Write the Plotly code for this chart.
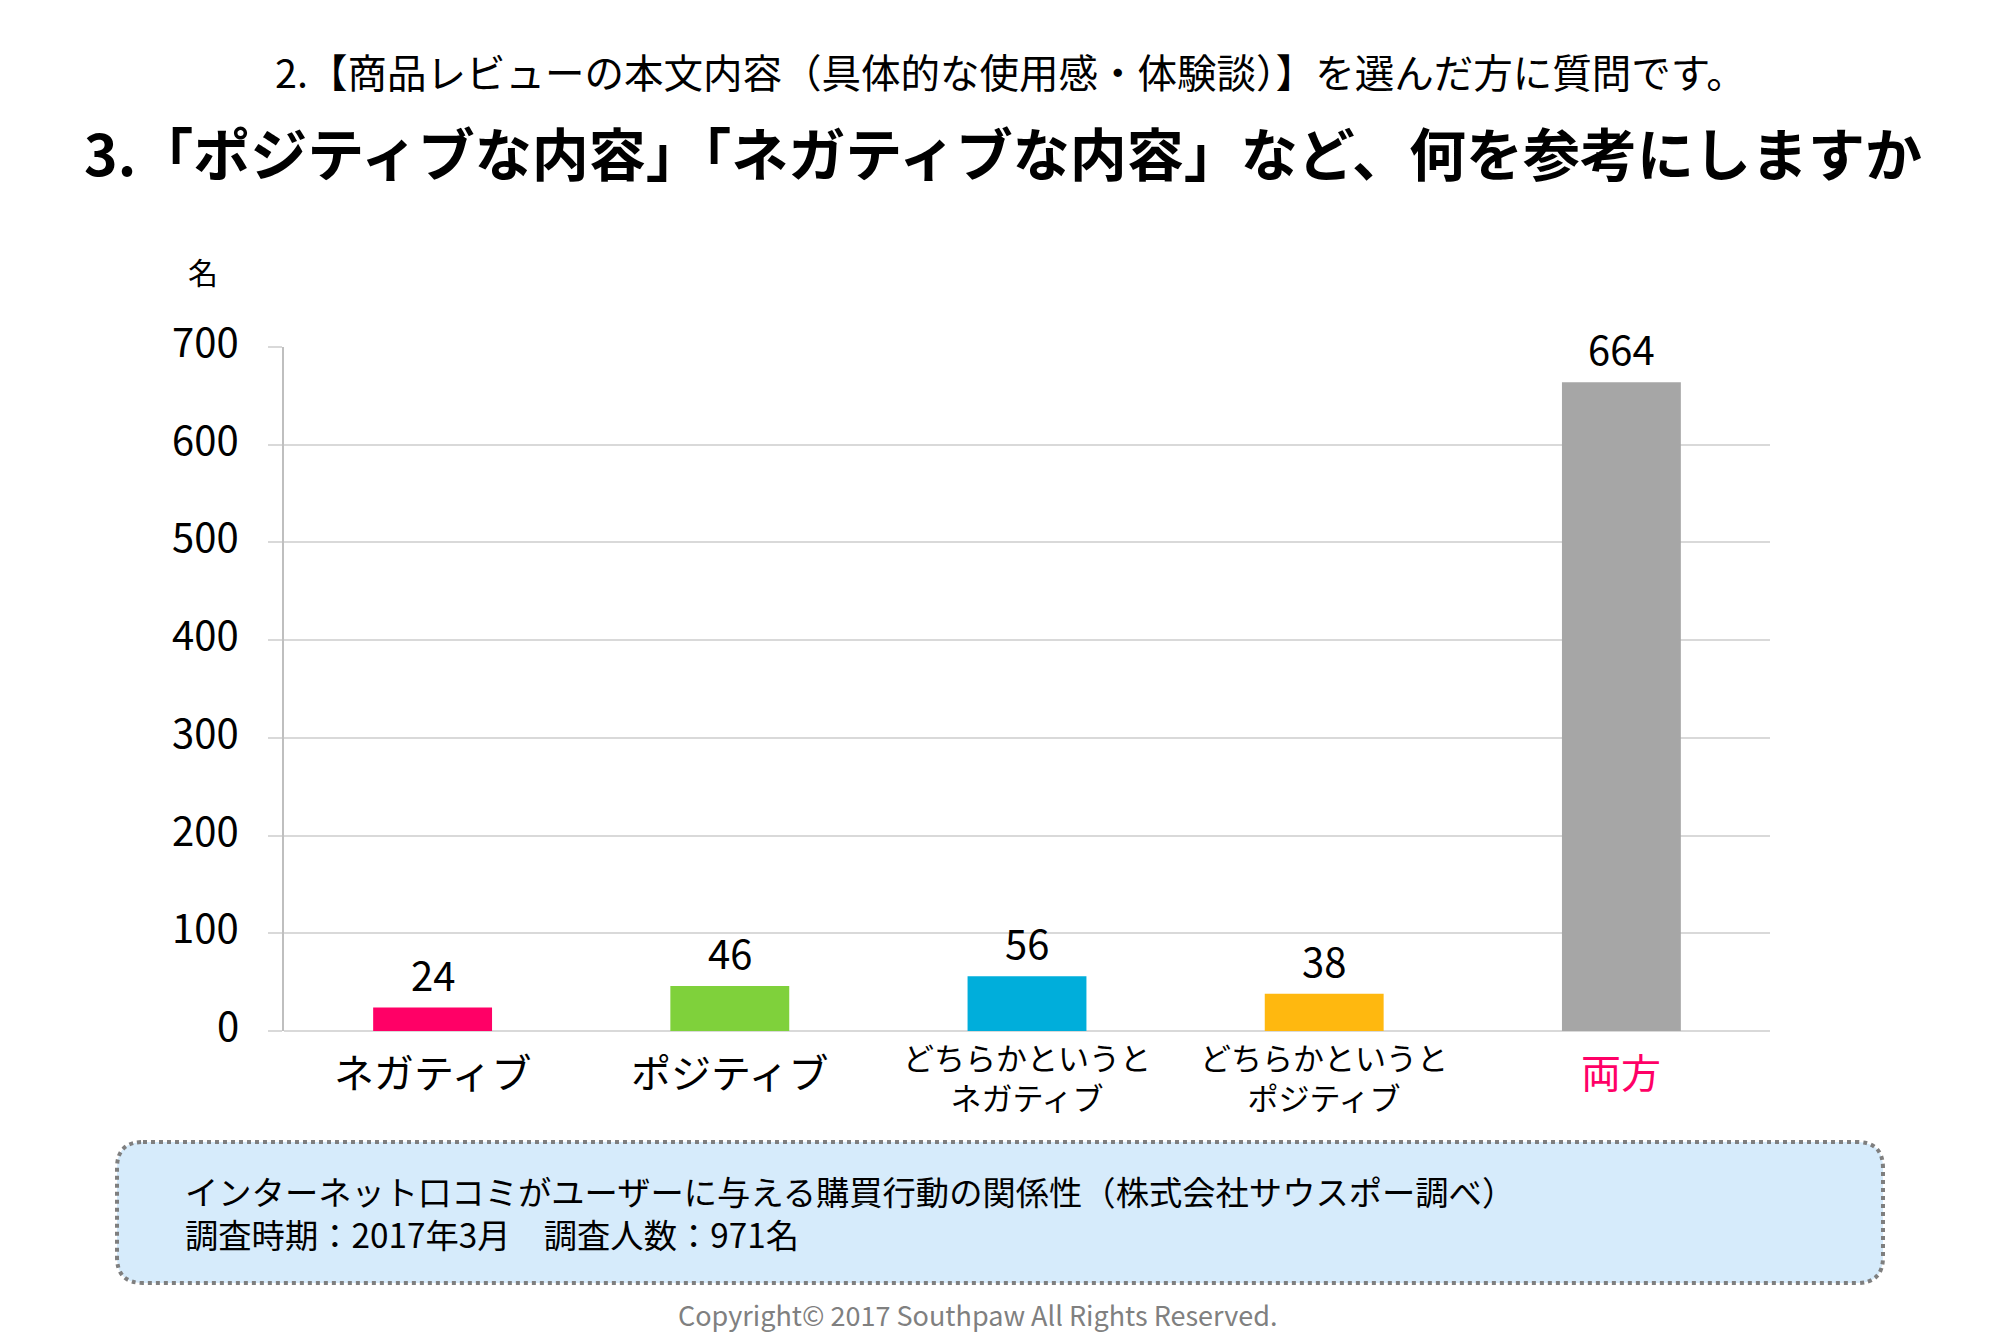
import plotly.graph_objects as go

# data
categories = ["ネガティブ", "ポジティブ", "どちらかというと<br>ネガティブ",
              "どちらかというと<br>ポジティブ", "両方"]
counts = [24, 46, 56, 38, 664]
bar_colors = ["#FF0066", "#7FD13B", "#00AEDB", "#FFB80F", "#A6A6A6"]
label_colors = ["#000000", "#000000", "#000000", "#000000", "#FF0066"]
y_ticks = [0, 100, 200, 300, 400, 500, 600, 700]

subtitle = "2.【商品レビューの本文内容（具体的な使用感・体験談）】を選んだ方に質問です。"
title = "3.「ポジティブな内容」「ネガティブな内容」など、何を参考にしますか"
unit = "名"
note_lines = ["インターネット口コミがユーザーに与える購買行動の関係性（株式会社サウスポー調べ）",
              "調査時期：2017年3月　調査人数：971名"]
copyright = "Copyright© 2017 Southpaw All Rights Reserved."

FONT = "Noto Sans CJK JP"
W, H = 2000, 1333
L, R, T, B = 284, 1770, 347, 1031   # plot area in pixels


def px(x):
    return (x - L) / (R - L)


def py(y):
    return (B - y) / (B - T)


fig = go.Figure()
fig.add_trace(go.Bar(
    x=categories, y=counts,
    marker=dict(color=bar_colors, line=dict(width=0)),
    width=0.4,
    hoverinfo="skip",
))

annotations = []
# y tick labels (sit a little above their gridlines, as in the original)
for t in y_ticks:
    annotations.append(dict(x=px(241), y=t, xref="paper", yref="y", text=str(t),
                            showarrow=False, xanchor="right", yanchor="middle", yshift=7,
                            font=dict(family=FONT, size=40, color="#000000")))
# value labels
for c, v in zip(categories, counts):
    annotations.append(dict(x=c, y=v, xref="x", yref="y", text=str(v),
                            showarrow=False, yanchor="middle", yshift=34,
                            font=dict(family=FONT, size=40, color="#000000")))
# category labels
for c, col in zip(categories, label_colors):
    two = "<br>" in c
    annotations.append(dict(x=c, y=0, xref="x", yref="y", text=c,
                            showarrow=False, yanchor="middle",
                            yshift=-45 if two else -40,
                            font=dict(family=FONT, size=31 if two else 40, color=col)))

annotations += [
    dict(x=px(1010), y=py(70), xref="paper", yref="paper", text=subtitle,
         showarrow=False, xanchor="center", yanchor="middle",
         font=dict(family=FONT, size=39.5, color="#000000")),
    dict(x=px(1003), y=py(151), xref="paper", yref="paper", text=title,
         showarrow=False, xanchor="center", yanchor="middle",
         font=dict(family=FONT, size=57, color="#000000", weight=700)),
    dict(x=px(203), y=py(271), xref="paper", yref="paper", text=unit,
         showarrow=False, xanchor="center", yanchor="middle",
         font=dict(family=FONT, size=30, color="#000000")),
    dict(x=px(183), y=py(1212), xref="paper", yref="paper", text="<br>".join(note_lines),
         showarrow=False, xanchor="left", yanchor="middle", align="left",
         font=dict(family=FONT, size=33.3, color="#000000")),
    dict(x=px(977), y=py(1314), xref="paper", yref="paper", text=copyright,
         showarrow=False, xanchor="center", yanchor="middle",
         font=dict(family=FONT, size=27, color="#808080")),
]

# rounded dotted note box
x0, x1, y0, y1, r = 117, 1883, 1142, 1283, 26


def pt(x, y):
    return f"{px(x):.5f},{py(y):.5f}"


box_path = (f"M {pt(x0 + r, y0)} L {pt(x1 - r, y0)} Q {pt(x1, y0)} {pt(x1, y0 + r)} "
            f"L {pt(x1, y1 - r)} Q {pt(x1, y1)} {pt(x1 - r, y1)} "
            f"L {pt(x0 + r, y1)} Q {pt(x0, y1)} {pt(x0, y1 - r)} "
            f"L {pt(x0, y0 + r)} Q {pt(x0, y0)} {pt(x0 + r, y0)} Z")

fig.update_layout(
    width=W, height=H,
    margin=dict(l=L, r=W - R, t=T, b=H - B, pad=0),
    plot_bgcolor="white", paper_bgcolor="white",
    showlegend=False,
    annotations=annotations,
    shapes=[dict(type="path", path=box_path, xref="paper", yref="paper",
                 fillcolor="#D6EBFB", line=dict(color="#7F7F7F", width=4, dash="dot"),
                 layer="below")],
    xaxis=dict(showticklabels=False, ticks="", showgrid=False, showline=False,
               zeroline=False, fixedrange=True),
    yaxis=dict(range=[0, 700], tickvals=y_ticks, showticklabels=False,
               showgrid=True, gridcolor="#D9D9D9",
               gridwidth=2, zeroline=True, zerolinecolor="#D9D9D9", zerolinewidth=2,
               showline=True, linecolor="#BFBFBF", linewidth=2,
               ticks="outside", ticklen=14, tickwidth=2, tickcolor="#D9D9D9",
               fixedrange=True),
)

fig.write_html("out.html", config={"displayModeBar": False},
               post_script="document.body.style.margin='0';")
